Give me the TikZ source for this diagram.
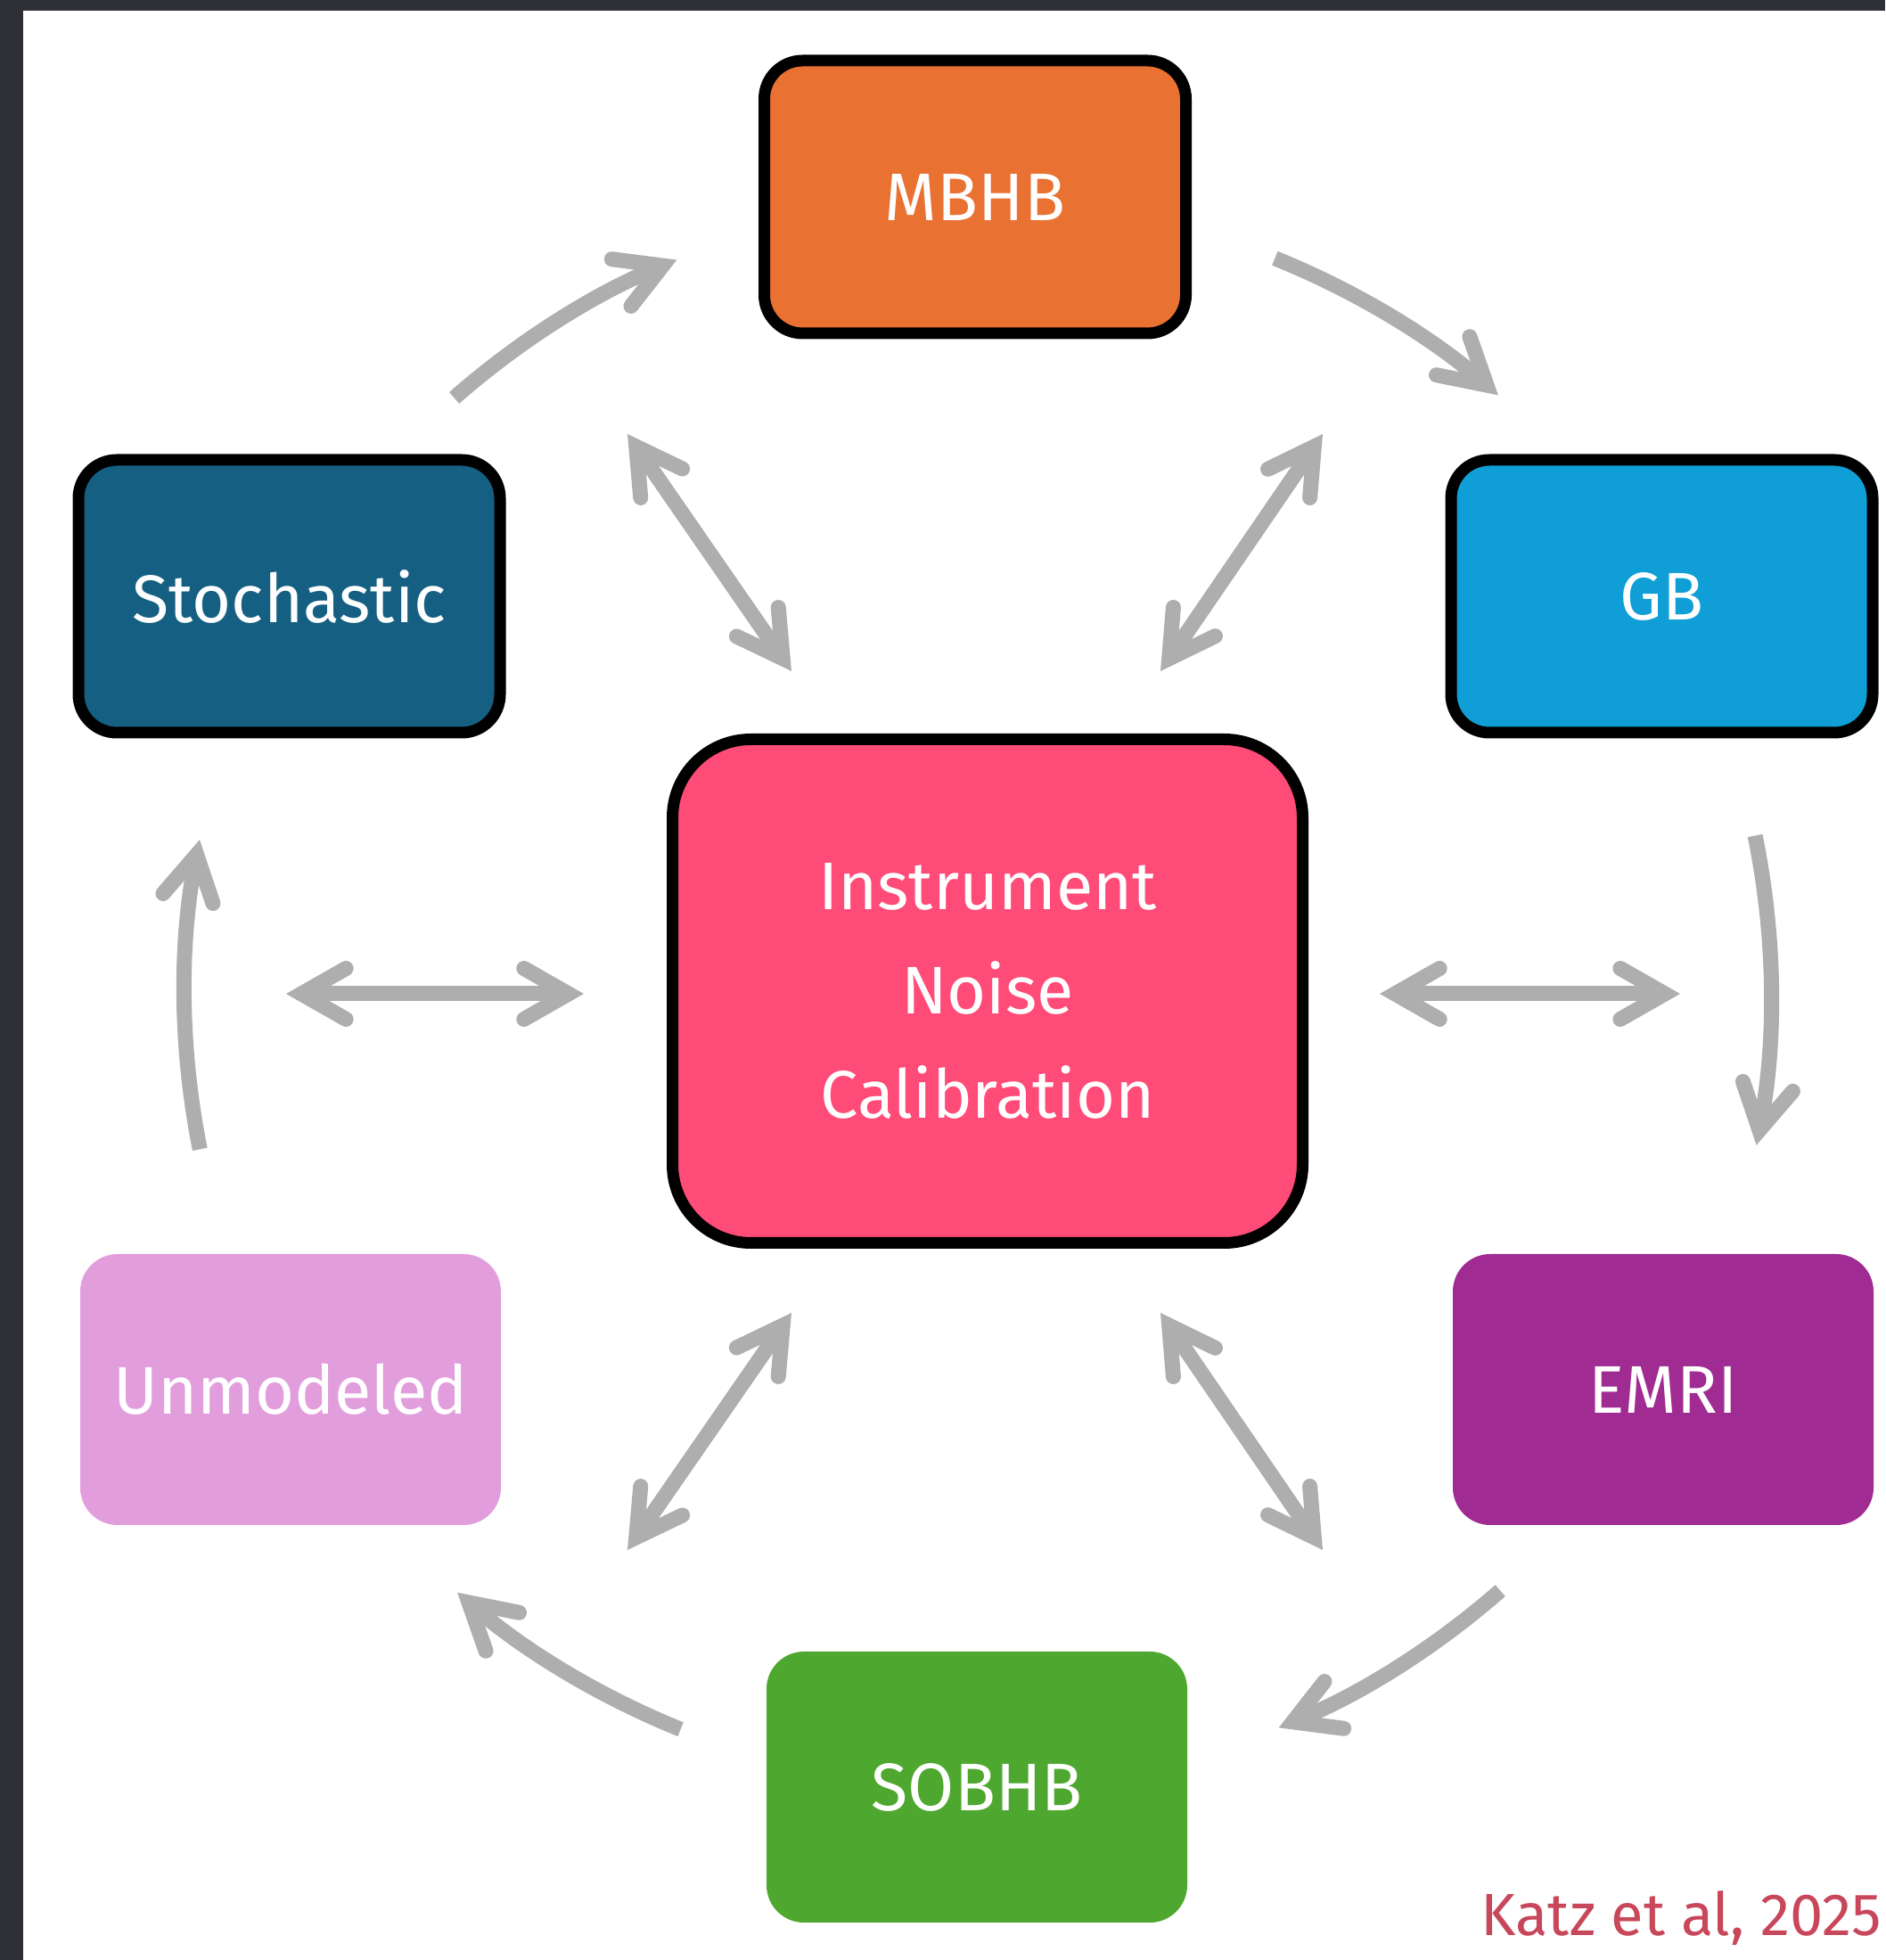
\documentclass[tikz,border=0pt]{standalone}
\usepackage{fontspec}
\setmainfont{Fira Sans}
\usetikzlibrary{
    arrows.meta,
    calc,
    positioning
}
\definecolor{frame}{HTML}{2E3036}
\definecolor{linkgray}{HTML}{AEAEAE}
\definecolor{mbhbcol}{HTML}{E97132}
\definecolor{stochcol}{HTML}{156082}
\definecolor{gbcol}{HTML}{0F9ED5}
\definecolor{instcol}{HTML}{FF4B77}
\definecolor{unmodcol}{HTML}{E29EDC}
\definecolor{emricol}{HTML}{A02B93}
\definecolor{sobhbcol}{HTML}{4EA72E}
\definecolor{creditcol}{HTML}{C8475A}
\tikzset{
    barb/.tip = {Straight Barb[length = 0.5cm, width = 0.57cm, line cap = round, line join = miter]},
    source/.style = {
        rectangle,
        rounded corners = 0.43cm,
        draw = black,
        line width = 0.13cm,
        minimum width = 4.73cm,
        minimum height = 3.06cm,
        inner sep = 0pt,
        text = white,
        font = {\fontsize{21.5}{26}\selectfont}
    },
    plain source/.style = {
        source,
        draw = none,
        minimum width = 4.72cm,
        minimum height = 3.04cm,
        rounded corners = 0.42cm
    },
    link/.style = {draw = linkgray, line width = 0.17cm, barb-barb},
    flow/.style = {draw = linkgray, line width = 0.17cm, -barb}
}

\begin{document}
\begin{tikzpicture}
    \useasboundingbox (0,0) rectangle (21.15,21.99);
    \fill[frame] (0,0) rectangle (21.15,21.99);
    \fill[white] (0.26,0) rectangle (21.15,21.87);

    \coordinate (C) at (10.97,10.84);

    \node[source, fill = mbhbcol] (mbhb) at (10.94,19.78) {MBHB};
    \node[source, fill = stochcol] (stoch) at (3.245,15.3) {Stochastic};
    \node[source, fill = gbcol] (gb) at (18.645,15.3) {GB};
    \node[source, fill = instcol, minimum width = 7.07cm, minimum height = 5.65cm,
          rounded corners = 0.88cm, align = center,
          font = {\fontsize{21.5}{33.3}\selectfont}] (inst) at (11.08,10.87)
          {Instrument\\Noise\\Calibration};
    \node[plain source, fill = unmodcol] (unmod) at (3.26,6.4) {Unmodeled};
    \node[plain source, fill = emricol] (emri) at (18.66,6.4) {EMRI};
    \node[plain source, fill = sobhbcol] (sobhb) at (10.96,1.94) {SOBHB};

    % free ends of the two-way links
    \coordinate (ul1) at (7.04,17.12);  \coordinate (ul2) at (8.88,14.46);
    \coordinate (ur1) at (14.84,17.12); \coordinate (ur2) at (13.02,14.46);
    \coordinate (ll1) at (8.88,7.26);   \coordinate (ll2) at (7.04,4.60);
    \coordinate (lr1) at (13.02,7.26);  \coordinate (lr2) at (14.84,4.60);
    \coordinate (l1) at (3.21,10.84);   \coordinate (l2) at (6.55,10.84);
    \coordinate (r1) at (15.48,10.84);  \coordinate (r2) at (18.85,10.84);

    \draw[link] (ul1) -- (ul2);
    \draw[link] (ur1) -- (ur2);
    \draw[link] (ll1) -- (ll2);
    \draw[link] (lr1) -- (lr2);
    \draw[link] (l1) -- (l2);
    \draw[link] (r1) -- (r2);

    % the outer cycle
    \foreach \a/\b in {131.3/112.3, 68/49, 11.5/-11, -48.8/-67.7, -112/-131, 191.3/168.8}
        \draw[flow] ($(C)+(\a:8.9)$) arc[start angle = \a, end angle = \b, radius = 8.9];

    \node[anchor = base east, text = creditcol, inner sep = 0pt,
          font = {\fontsize{19}{22}\selectfont}] (credit) at (21.12,0.27) {Katz et al, 2025};
\end{tikzpicture}
\end{document}
